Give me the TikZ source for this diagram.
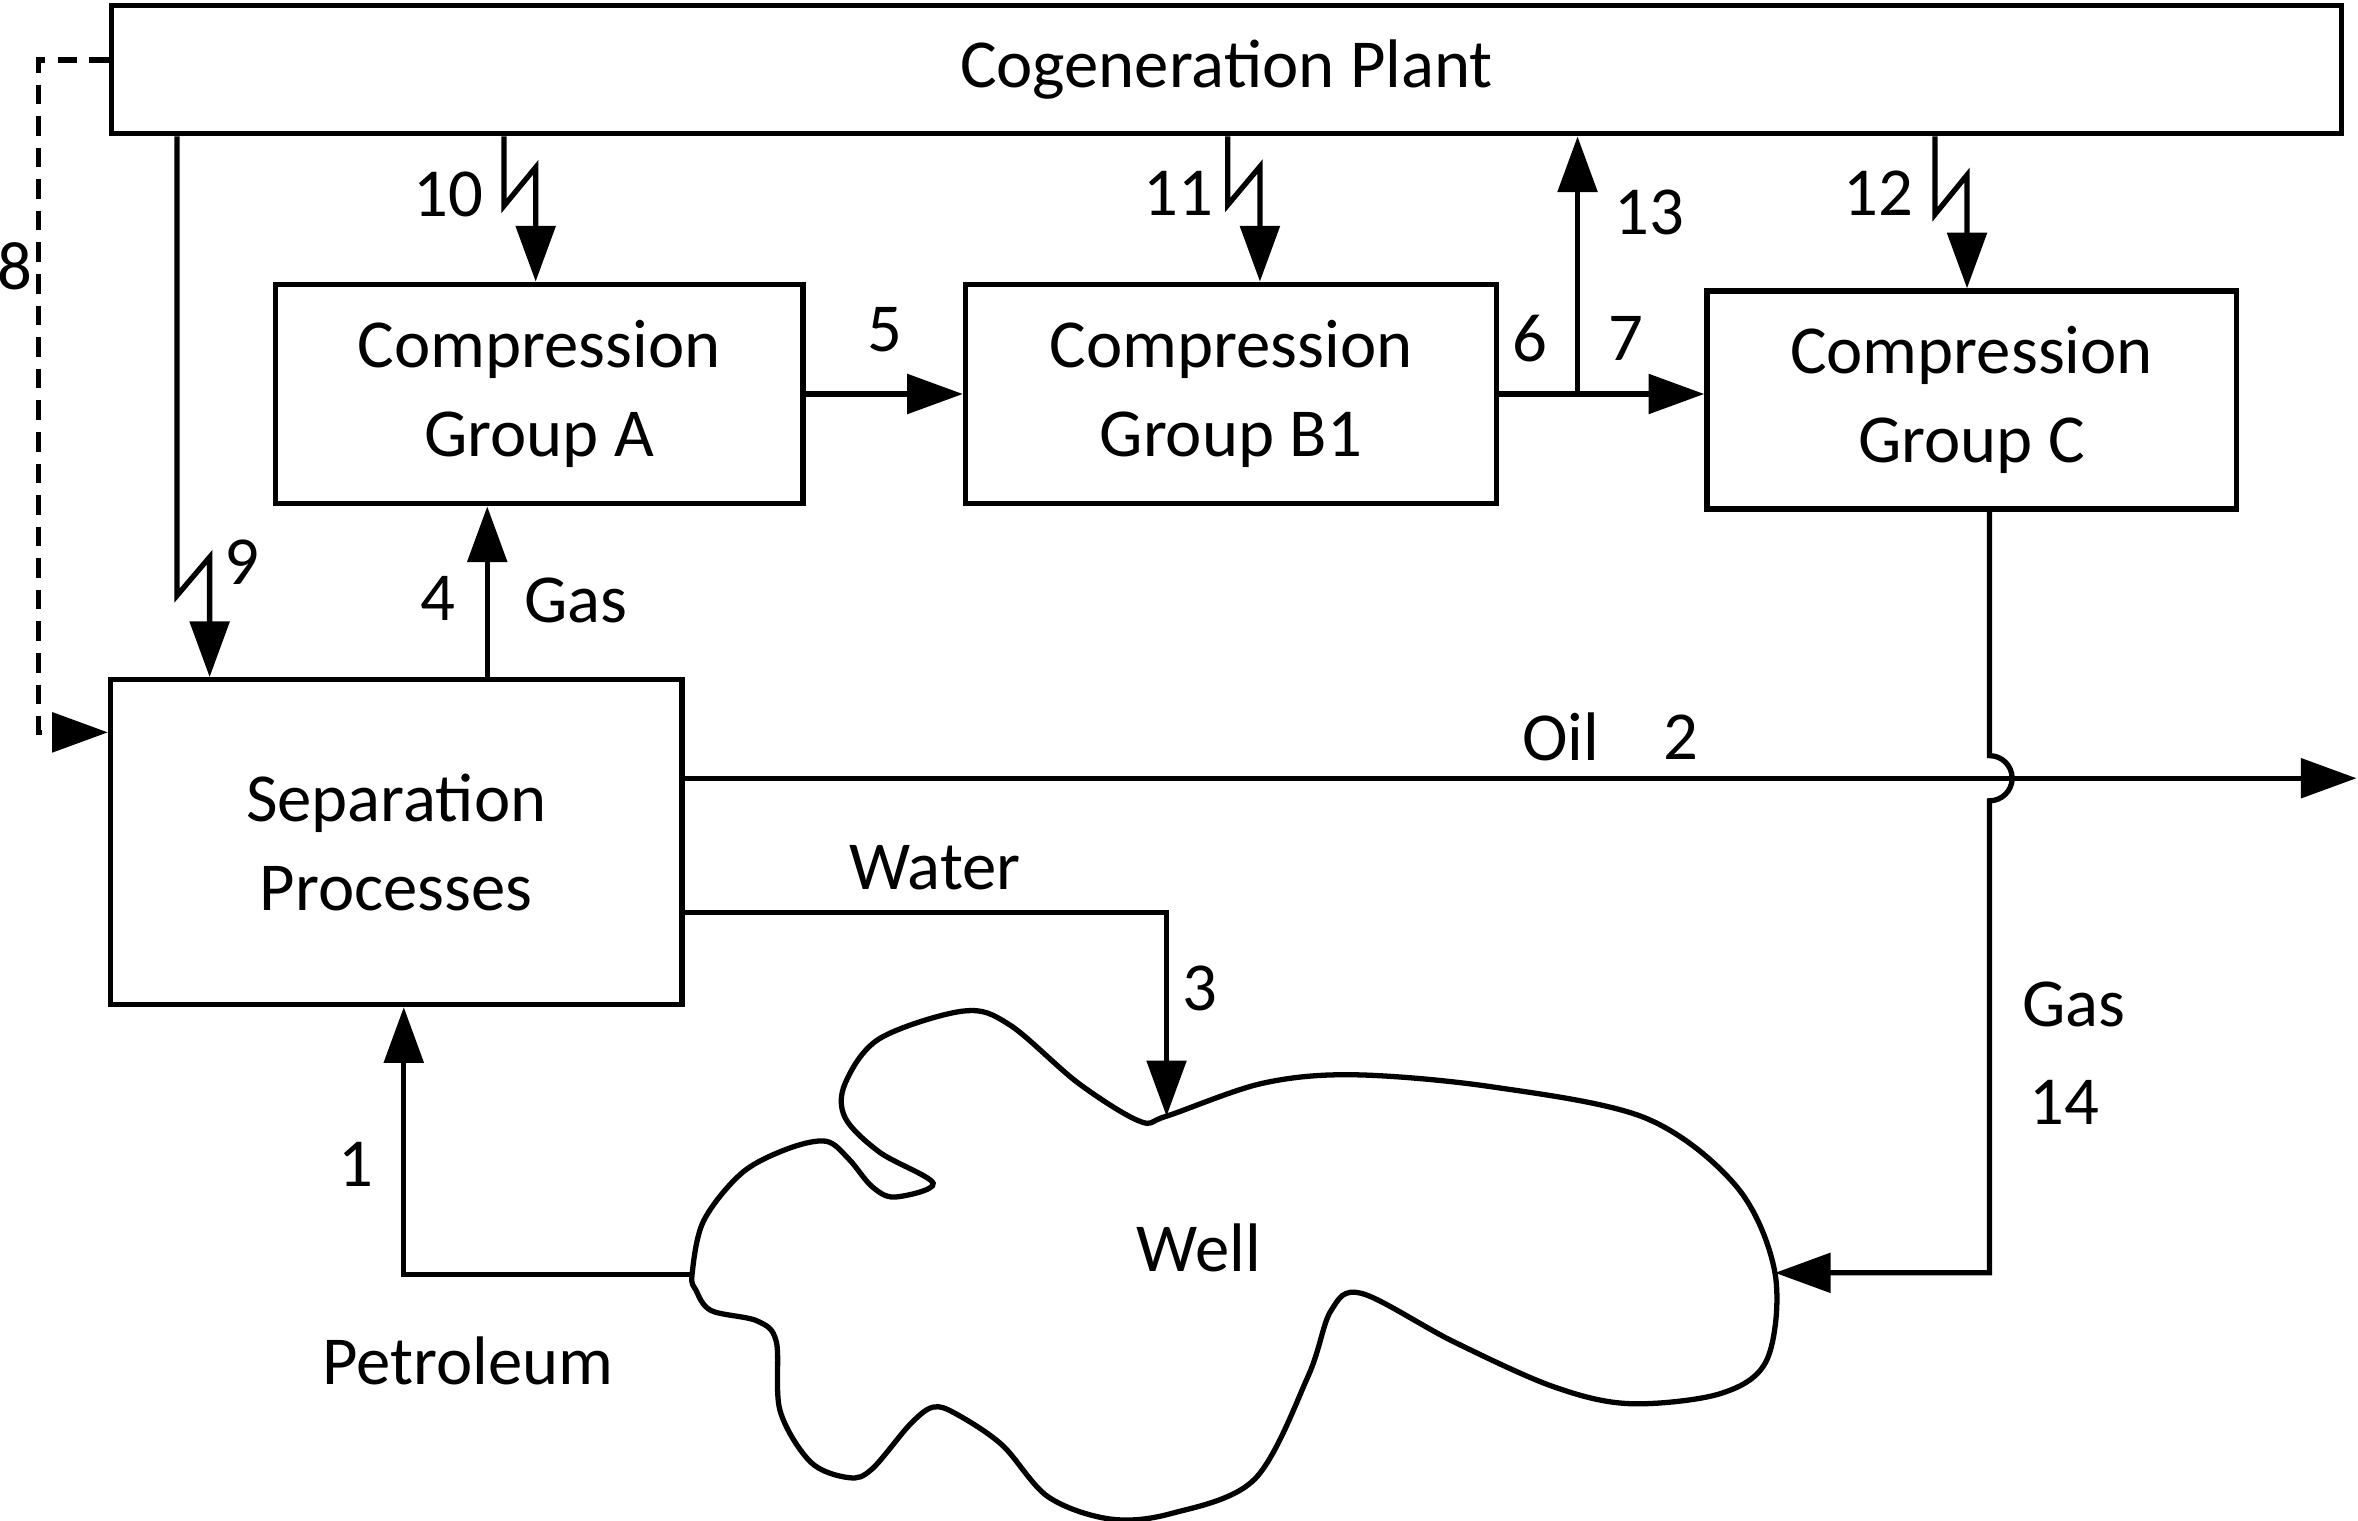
\documentclass[tikz,border=0pt]{standalone}
\usepackage{fontspec}
\setmainfont{Carlito}
\usetikzlibrary{arrows.meta,calc}
\tikzset{box/.style={draw,line width=1pt,align=center,inner sep=0pt,font=\fontsize{13}{16.8}\selectfont},flow/.style={-{Triangle[length=3.7mm,width=2.6mm]},line width=1pt},lbl/.style={inner sep=0pt,font=\fontsize{13}{16}\selectfont}}
\begin{document}
\begin{tikzpicture}
\useasboundingbox (0,0) rectangle (15.68,-10.11);
\node[box,minimum width=14.83cm,minimum height=8.54mm] (cogen) at (8.155,-.463) {Cogeneration Plant};
\node[box,minimum width=3.51cm,minimum height=1.46cm] (compA) at (3.585,-2.62) {Compression\\Group A};
\node[box,minimum width=3.53cm,minimum height=1.46cm] (compB) at (8.185,-2.62) {Compression\\Group B1};
\node[box,minimum width=3.52cm,minimum height=1.45cm] (compC) at (13.11,-2.66) {Compression\\Group C};
\node[box,minimum width=3.80cm,minimum height=2.16cm] (sep) at (2.635,-5.60) {Separation\\Processes};
% well
\draw[line width=1pt] plot[smooth cycle,tension=.55] coordinates {(4.602,-8.475) (4.678,-8.12) (4.933,-7.80) (5.238,-7.639) (5.493,-7.589) (5.645,-7.708) (5.798,-7.89) (5.95,-7.96) (6.205,-7.868) (5.849,-7.662) (5.62,-7.433) (5.62,-7.204) (5.849,-6.906) (6.408,-6.723) (6.714,-6.815) (7.172,-7.204) (7.579,-7.456) (7.757,-7.422) (8.393,-7.204) (9.004,-7.147) (9.92,-7.227) (10.938,-7.433) (11.548,-7.891) (11.803,-8.464) (11.752,-9.036) (11.447,-9.265) (10.837,-9.334) (10.327,-9.22) (9.666,-8.922) (9.055,-8.601) (8.851,-8.715) (8.699,-9.15) (8.342,-9.837) (7.782,-10.066) (7.375,-10.10) (6.968,-9.952) (6.663,-9.608) (6.358,-9.402) (6.205,-9.357) (6.052,-9.471) (5.798,-9.769) (5.645,-9.826) (5.391,-9.723) (5.187,-9.38) (5.162,-8.921) (5.035,-8.784) (4.729,-8.715) (4.627,-8.578)};
\coordinate (wellL) at (4.602,-8.475);
\coordinate (wellT) at (7.757,-7.422);
\coordinate (wellR) at (11.803,-8.464);
\coordinate (oilend) at (15.67,-5.175);
% streams
\draw[flow] (wellL) -| (sep.south -| 2.685,0);
\draw[flow] (sep.east |- oilend) -- (oilend);
\draw[flow] (sep.east |- 0,-6.07) -| (wellT);
\draw[flow] (sep.north -| 3.24,0) -- (compA.south -| 3.24,0);
\draw[flow] (compA) -- (compB);
\draw[flow] (compB.east) -- (compC.west |- compB.east);
\draw[flow] (compB.east -| 10.49,0) -- (cogen.south -| 10.49,0);
\draw[flow] (compC.south -| 13.23,0) -- (13.23,-5.025) arc[start angle=90,end angle=-90,radius=1.5mm] |- (wellR);
\draw[flow,dash pattern=on 1.3mm off .8mm] (cogen.west |- 0,-.40) -| (.255,-4.87) -- (sep.west |- 0,-4.87);
% power
\foreach \xa/\xb/\ylo/\yhi/\tgt in {1.177/1.394/-3.96/-3.705/sep,3.352/3.562/-1.368/-1.113/compA,8.164/8.378/-1.363/-1.108/compB,12.867/13.08/-1.425/-1.164/compC}{\draw[flow] (cogen.south -| \xa,0) -- (\xa,\ylo) -- (\xb,\yhi) -- (\tgt.north -| \xb,0);}
\foreach \n/\x/\y/\txt in {l1/2.367/-7.74/1,l2/11.18/-4.90/2,l3/7.98/-6.57/3,l4/2.91/-3.98/4,l5/5.884/-2.195/5,l6/10.17/-2.25/6,l7/10.81/-2.25/7,l8/.10/-1.77/8,l9/1.61/-3.74/9,l10/2.98/-1.29/10,l11/7.837/-1.285/11,l12/12.49/-1.286/12,l13/10.97/-1.41/13,l14/13.73/-7.33/14,oil/10.38/-4.90/Oil,gasA/3.83/-3.99/Gas,gasC/13.79/-6.68/Gas,water/6.216/-5.77/Water,petro/3.11/-9.05/Petroleum,well/7.97/-8.30/Well}{\node[lbl] (\n) at (\x,\y) {\txt};}
\end{tikzpicture}
\end{document}
